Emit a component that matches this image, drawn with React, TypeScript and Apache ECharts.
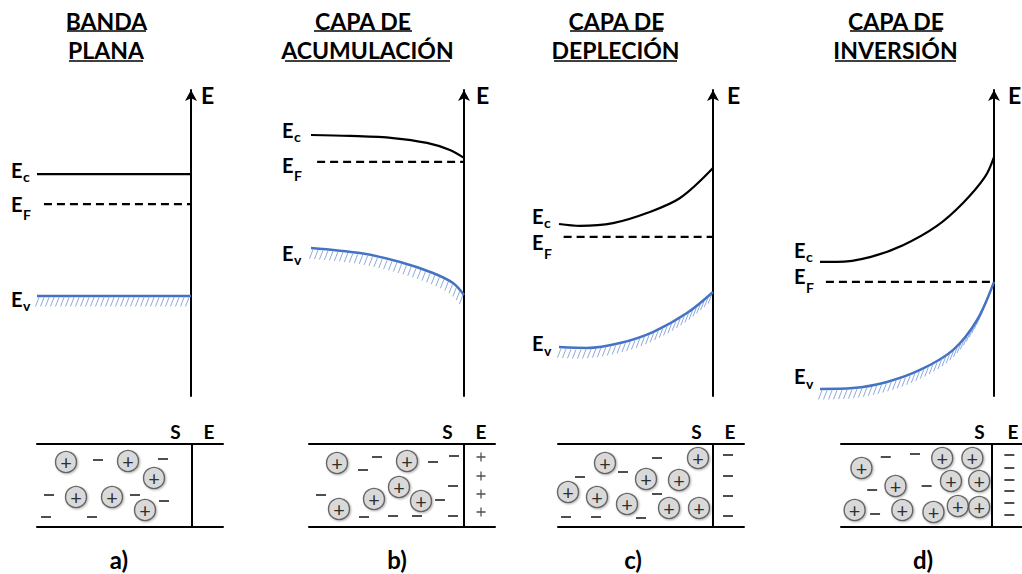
import React, { useEffect, useRef } from "react";
import * as echarts from "echarts";

const FONT = "Lato, 'Open Sans', 'DejaVu Sans', sans-serif";

// ---------- Band diagrams: x = distance (0 = bulk, 1 = surface), y = energy (arb. units 0..100)
const aEc = [[0, 72.5], [1, 72.5]];
const aEF = [[0.045, 62.7], [1, 62.7]];
const aEv = [[0, 32.7], [1, 32.7]];

const bEc = [[0, 85.3], [0.255, 85.0], [0.536, 84.3], [0.758, 82.7], [0.908, 80.4], [1, 77.8]];
const bEF = [[0.04, 76.5], [1, 76.5]];
const bEv = [[0, 48.4], [0.32, 46.7], [0.582, 43.8], [0.797, 40.2], [0.928, 36.9], [1, 33.0]];

const cEc = [[0, 56.2], [0.136, 55.6], [0.351, 56.5], [0.571, 59.8], [0.786, 64.7], [1, 74.5]];
const cEF = [[0.03, 52.0], [1, 52.0]];
const cEv = [[0, 16.0], [0.182, 15.7], [0.396, 17.3], [0.61, 20.9], [0.831, 27.1], [1, 34.0]];

const dEc = [[0, 43.8], [0.098, 43.8], [0.287, 45.4], [0.477, 49.3], [0.672, 55.6], [0.822, 63.1], [0.948, 71.6], [1, 78.1]];
const dEF = [[0.034, 37.3], [1, 37.3]];
const dEv = [[0, 2.3], [0.19, 2.6], [0.385, 4.6], [0.575, 8.5], [0.764, 15.0], [0.902, 24.8], [1, 37.3]];

// ---------- Charge boxes: x = position (0..186, surface S|E at 155), y = depth (0..83)
const aIons = [[29, 65], [91, 66], [117, 49], [39, 30], [75, 30], [108, 17]];
const aMinus = [[61, 67], [126, 68], [12, 32], [98, 32], [127, 26], [9, 10], [55, 10]];
const aGate: number[][] = [];

const bIons = [[28, 64], [98, 66], [90, 40], [65, 28], [112, 26], [30, 18]];
const bMinus = [[54, 57], [68, 70], [124, 65], [145, 71], [12, 32], [144, 41], [131, 27], [55, 10], [84, 11], [108, 11], [144, 11]];
const bGate = [[172, 70], [172, 51], [172, 33], [172, 15]];

const cIons = [[47, 64], [140, 69], [88, 48], [121, 47], [10, 35], [39, 30], [69, 23], [111, 19], [141, 19]];
const cMinus = [[22, 50], [65, 55], [99, 69], [99, 33], [8, 10], [38, 10], [83, 9]];
const cGate = [[170, 72], [170, 51], [170, 31], [170, 11]];

const dIons = [[21, 59], [104, 69], [135, 69], [56, 41], [113, 46], [142, 46], [14, 17], [63, 17], [95, 15], [120, 21], [142, 20]];
const dMinus = [[46, 70], [76, 73], [32, 37], [88, 41], [35, 13]];
const dGate = [[173, 72], [173, 59], [173, 47], [173, 36], [173, 24], [173, 12]];

const DIVIDER = 155;
const BOX_W = 186;
const BOX_H = 83;

// ---------- Texts
const titleLines = [
  ["BANDA", "PLANA"],
  ["CAPA DE", "ACUMULACIÓN"],
  ["CAPA DE", "DEPLECIÓN"],
  ["CAPA DE", "INVERSIÓN"],
];
const captions = ["a)", "b)", "c)", "d)"];
const levelSubs = ["c", "F", "v"];

// ---------- Layout (styling only)
const bandLayout = [
  { left: 37, width: 154 },
  { left: 311, width: 153 },
  { left: 559, width: 154 },
  { left: 820, width: 174 },
];
const BAND_TOP = 90;
const BAND_H = 306;
const boxLefts = [37, 309, 558, 841];
const BOX_TOP = 444;
const titleLayout = [
  { c1: 106.5, c2: 106, u1: [67, 146], u2: [69, 143] },
  { c1: 363, c2: 367.5, u1: [314, 412], u2: [285, 450] },
  { c1: 616.5, c2: 615.5, u1: [570, 663], u2: [554, 677] },
  { c1: 896, c2: 895.5, u1: [850, 942], u2: [835, 956] },
];
const captionX = [119, 397, 633, 923];
// E label: left x of "E" and vertical centres for Ec, EF, Ev
const levelLabelLayout = [
  { x: 11, ys: [169.5, 203.5, 298.5] },
  { x: 282, ys: [129.5, 164.5, 252.5] },
  { x: 532, ys: [216, 242, 343] },
  { x: 794, ys: [250, 276, 376] },
];
const subDy = [6.5, 11, 7];
const axisELeft = [201, 476, 727, 1008];

function catmull(pts: number[][]) {
  const out: number[][] = [];
  const n = pts.length;
  for (let i = 0; i < n - 1; i++) {
    const p0 = pts[Math.max(i - 1, 0)];
    const p1 = pts[i];
    const p2 = pts[i + 1];
    const p3 = pts[Math.min(i + 2, n - 1)];
    const c1 = [p1[0] + (p2[0] - p0[0]) / 6, p1[1] + (p2[1] - p0[1]) / 6];
    const c2 = [p2[0] - (p3[0] - p1[0]) / 6, p2[1] - (p3[1] - p1[1]) / 6];
    for (let k = 0; k < 24; k++) {
      const t = k / 24;
      const mt = 1 - t;
      out.push([
        mt * mt * mt * p1[0] + 3 * mt * mt * t * c1[0] + 3 * mt * t * t * c2[0] + t * t * t * p2[0],
        mt * mt * mt * p1[1] + 3 * mt * mt * t * c1[1] + 3 * mt * t * t * c2[1] + t * t * t * p2[1],
      ]);
    }
  }
  out.push(pts[n - 1]);
  return out;
}

function makeHatch(curve: number[][]) {
  return (params: any, api: any) => {
    if (params.dataIndex !== 0) return null;
    const px = curve.map((p) => api.coord(p));
    const fine = catmull(px);
    const children: any[] = [];
    let acc = 0;
    let next = 2;
    for (let i = 1; i < fine.length; i++) {
      const [x0, y0] = fine[i - 1];
      const [x1, y1] = fine[i];
      const d = Math.hypot(x1 - x0, y1 - y0);
      while (d > 0 && acc + d >= next) {
        const t = (next - acc) / d;
        const x = x0 + (x1 - x0) * t;
        const y = y0 + (y1 - y0) * t;
        children.push({
          type: "line",
          shape: { x1: x, y1: y + 1.5, x2: x - 3.5, y2: y + 10.5 },
          style: { stroke: "#8eaadb", lineWidth: 1 },
        });
        next += 5;
      }
      acc += d;
    }
    return { type: "group", children };
  };
}

function buildOption() {
  const bands = [
    { ec: aEc, ef: aEF, ev: aEv },
    { ec: bEc, ef: bEF, ev: bEv },
    { ec: cEc, ef: cEF, ev: cEv },
    { ec: dEc, ef: dEF, ev: dEv },
  ];
  const boxes = [
    { ions: aIons, minus: aMinus, gate: aGate, gateSign: "minus" },
    { ions: bIons, minus: bMinus, gate: bGate, gateSign: "plus" },
    { ions: cIons, minus: cMinus, gate: cGate, gateSign: "minus" },
    { ions: dIons, minus: dMinus, gate: dGate, gateSign: "minus" },
  ];

  const grid: any[] = [];
  const xAxis: any[] = [];
  const yAxis: any[] = [];
  const series: any[] = [];
  const graphic: any[] = [];

  const hidden = { axisTick: { show: false }, axisLabel: { show: false }, splitLine: { show: false } };

  bandLayout.forEach((l) => {
    grid.push({ left: l.left, width: l.width, top: BAND_TOP, height: BAND_H });
  });
  boxLefts.forEach((l) => {
    grid.push({ left: l, width: BOX_W, top: BOX_TOP, height: BOX_H });
  });

  bands.forEach((_, i) => {
    xAxis.push({ type: "value", gridIndex: i, min: 0, max: 1, show: false });
    yAxis.push({
      type: "value",
      gridIndex: i,
      min: 0,
      max: 100,
      position: "right",
      axisLine: {
        show: true,
        onZero: false,
        symbol: ["none", "arrow"],
        symbolSize: [9, 11],
        lineStyle: { color: "#000", width: 2 },
      },
      ...hidden,
    });
  });
  boxes.forEach((_, i) => {
    const line = { show: true, onZero: false, lineStyle: { color: "#000", width: 2 } };
    xAxis.push({ type: "value", gridIndex: 4 + i, min: 0, max: BOX_W, position: "bottom", axisLine: line, ...hidden });
    yAxis.push({ type: "value", gridIndex: 4 + i, min: 0, max: BOX_H, show: false });
  });
  boxes.forEach((_, i) => {
    const line = { show: true, onZero: false, lineStyle: { color: "#000", width: 2 } };
    xAxis.push({ type: "value", gridIndex: 4 + i, min: 0, max: BOX_W, position: "top", axisLine: line, ...hidden });
  });

  bands.forEach((b, i) => {
    series.push({
      type: "line", xAxisIndex: i, yAxisIndex: i, data: b.ec, smooth: 0.33, symbol: "none", silent: true,
      lineStyle: { color: "#000", width: 2.2 },
    });
    series.push({
      type: "line", xAxisIndex: i, yAxisIndex: i, data: b.ef, symbol: "none", silent: true,
      lineStyle: { color: "#000", width: 2.2, type: [8, 5] },
    });
    series.push({
      type: "custom", xAxisIndex: i, yAxisIndex: i, data: b.ev, renderItem: makeHatch(b.ev), silent: true, clip: false,
    });
    series.push({
      type: "line", xAxisIndex: i, yAxisIndex: i, data: b.ev, smooth: 0.33, symbol: "none", silent: true,
      lineStyle: { color: "#4472c4", width: 2.5 },
    });
  });

  boxes.forEach((bx, i) => {
    const ax = 4 + i;
    series.push({
      type: "scatter", xAxisIndex: ax, yAxisIndex: ax, data: bx.ions, silent: true,
      symbol: "circle", symbolSize: 21,
      itemStyle: {
        color: "#d9d9d9", borderColor: "#4a4a4a", borderWidth: 1.4,
        shadowBlur: 2, shadowColor: "rgba(0,0,0,0.35)", shadowOffsetX: 1, shadowOffsetY: 1,
      },
      label: { show: true, position: "inside", formatter: "+", color: "#000", fontSize: 20, fontFamily: FONT },
      markLine: {
        silent: true, symbol: "none", label: { show: false },
        lineStyle: { color: "#000", width: 2, type: "solid" },
        data: [{ xAxis: DIVIDER }],
      },
    });
    series.push({
      type: "scatter", xAxisIndex: ax, yAxisIndex: ax, data: bx.minus, silent: true,
      symbol: "rect", symbolSize: [10, 2], itemStyle: { color: "#222" },
    });
    series.push({
      type: "scatter", xAxisIndex: ax, yAxisIndex: ax, data: bx.gate, silent: true,
      symbol: bx.gateSign === "plus" ? "path://M0,4.3H10V5.7H0Z M4.3,0H5.7V10H4.3Z" : "rect",
      symbolSize: bx.gateSign === "plus" ? 9 : [10, 2],
      itemStyle: { color: "#222" },
    });
  });

  const txt = (text: string, x: number, y: number, size: number, align = "center", weight = "bold") => ({
    type: "text",
    x,
    y,
    silent: true,
    style: {
      text, fontSize: size, fontWeight: weight, fontFamily: FONT, fill: "#000",
      align, verticalAlign: "middle", textAlign: align, textVerticalAlign: "middle",
    },
  });
  const uline = (x1: number, x2: number, y: number) => ({
    type: "line", silent: true, shape: { x1, y1: y, x2, y2: y }, style: { stroke: "#000", lineWidth: 1.5 },
  });

  titleLines.forEach((lines, i) => {
    const t = titleLayout[i];
    graphic.push(txt(lines[0], t.c1, 20.5, 23));
    graphic.push(uline(t.u1[0], t.u1[1], 31));
    graphic.push(txt(lines[1], t.c2, 50, 23));
    graphic.push(uline(t.u2[0], t.u2[1], 61));
  });
  captions.forEach((c, i) => graphic.push(txt(c, captionX[i], 559, 24)));
  axisELeft.forEach((x) => graphic.push(txt("E", x, 94.5, 23, "left")));
  levelLabelLayout.forEach((l) => {
    l.ys.forEach((y, k) => {
      graphic.push(txt("E", l.x, y, 20, "left"));
      graphic.push(txt(levelSubs[k], l.x + 12, y + subDy[k], 14, "left"));
    });
  });
  boxLefts.forEach((l) => {
    graphic.push(txt("S", l + 138.5, 431, 19));
    graphic.push(txt("E", l + 172, 431, 19));
  });

  return { animation: false, backgroundColor: "#fff", grid, xAxis, yAxis, series, graphic };
}

export default function App() {
  const ref = useRef<HTMLDivElement>(null);
  useEffect(() => {
    const chart = echarts.init(ref.current!, null, { renderer: "svg" });
    chart.setOption(buildOption() as any);
    return () => chart.dispose();
  }, []);
  return (
    <div
      ref={ref}
      style={{ position: "fixed", left: 0, top: 0, width: 1022, height: 574, background: "#fff" }}
    />
  );
}
